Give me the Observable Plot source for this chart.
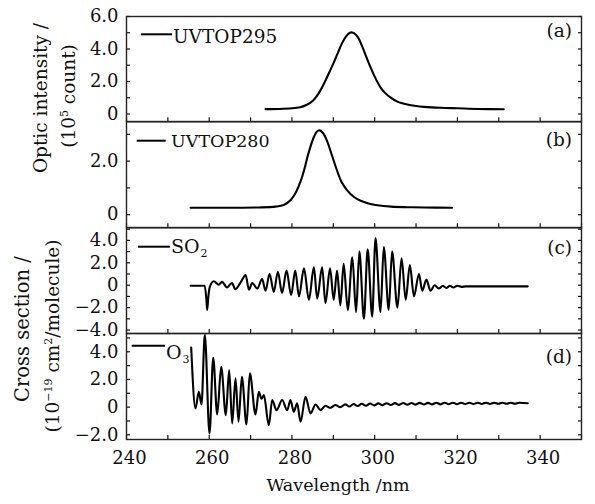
<!DOCTYPE html>
<html><head><meta charset="utf-8">
<script src="https://cdn.jsdelivr.net/npm/d3@7"></script>
<script src="https://cdn.jsdelivr.net/npm/@observablehq/plot@0.6"></script>
<style>
body{margin:0;background:#fff;}
#chart{position:relative;width:595px;height:504px;font-family:"DejaVu Serif",serif;color:#111;overflow:hidden;}
#chart svg{position:absolute;left:0;overflow:visible;background:transparent;}
</style></head><body><div id="chart"></div>
<script>
// ---- data (wavelength in nm) ----
const uv295Wl  = [273.6,277,280,282,283.5,285,286,287,288,289,290,291,292,293,294,294.5,295,296,297,298,299,300,301.4,302.5,303.8,305.5,307.9,310,311.9,316,320,325,331.2];
const uv295Val = [0.30,0.31,0.35,0.42,0.55,0.80,1.10,1.50,2.00,2.55,3.10,3.70,4.30,4.75,5.00,5.02,4.98,4.70,4.15,3.50,2.87,2.30,1.64,1.30,1.02,0.76,0.58,0.49,0.44,0.38,0.35,0.31,0.29];

const uv280Wl  = [255.5,265,272,276,278,279.7,281,282.1,283,284,285.3,286,286.7,287.5,288.5,289.7,290.9,292,293.4,295,296.6,298.5,300.6,304,307.9,312,318.7];
const uv280Val = [0.26,0.26,0.27,0.30,0.36,0.55,0.85,1.25,1.70,2.30,2.90,3.10,3.15,3.05,2.75,2.20,1.65,1.22,0.90,0.66,0.52,0.42,0.35,0.30,0.28,0.27,0.26];

const so2Wl  = [255.5,258.9,259.3,259.5,259.8,260.1,261.1,262.3,263.1,264.3,265.5,266.3,267.6,268.8,269.6,270.4,271.6,272.8,273.6,274.6,275.6,276.6,277.6,278.7,279.8,280.8,281.7,282.9,284.1,285.3,286.1,287.3,288.1,289.2,290.1,290.9,291.7,292.5,293.5,294.6,295.5,296.3,297.4,298.3,299.4,300.2,301.4,302.2,303.4,304.2,305.5,306.5,307.5,308.5,309.5,310.7,311.5,312.5,313.5,314.5,315.5,316.5,317.3,318.2,319,320,321,322,337];
const so2Val = [-0.05,-0.05,-1.2,-2.2,-1.0,-0.2,0.35,0.05,0.3,-0.2,0.2,-0.35,0.25,0.9,-0.4,0.2,-0.3,0.55,-0.5,1.0,-0.6,1.2,-0.7,1.3,-0.9,1.3,-1.0,1.5,-1.3,1.6,-1.2,1.6,-1.6,1.5,-1.3,1.3,-1.8,1.9,-2.2,2.5,-2.4,3.0,-3.0,3.2,-2.8,4.2,-2.4,3.4,-2.2,3.0,-2.0,2.4,-1.3,1.8,-1.0,1.0,-0.5,0.5,-0.5,0.0,-0.3,-0.05,-0.25,-0.05,-0.2,-0.05,-0.15,-0.1,-0.1];

const o3Wl  = [255.64,256.68,257.49,258.13,258.93,260.07,260.96,261.93,262.89,264.01,264.82,265.55,266.35,267.08,267.89,269.01,269.82,271.19,271.99,272.64,273.2,274.41,275.22,276.27,277.63,278.84,279.65,280.45,281.26,282.07,283.28,284.49,285.7,286.9,288.1,289.3,290.5,291.7,292.9,293.9,294.9,295.9,296.9,297.9,298.9,299.9,300.9,301.9,302.9,303.9,304.9,305.9,306.9,307.9,308.9,309.9,310.9,311.9,312.9,313.9,314.9,315.9,316.9,317.9,318.9,319.9,320.9,321.9,322.9,323.9,324.9,325.9,326.9,327.9,328.9,329.9,330.9,331.9,332.9,333.9,335,337];
const o3Val = [4.3,-0.1,1.11,0.19,5.22,-1.91,3.57,-0.53,2.92,-0.58,2.68,-1.18,2.08,-1.06,2.2,-1.26,2.44,-0.53,1.11,0.6,0.87,-1.3,0.51,-0.22,0.51,-0.22,0.51,-0.34,0.27,-1.06,0.75,-0.46,0.19,-0.22,0.1,-0.05,0.15,0.0,0.2,0.04,0.22,0.08,0.24,0.1,0.26,0.12,0.27,0.14,0.28,0.15,0.29,0.16,0.3,0.17,0.3,0.18,0.31,0.19,0.31,0.2,0.32,0.2,0.32,0.21,0.32,0.21,0.32,0.22,0.32,0.22,0.32,0.23,0.32,0.23,0.32,0.24,0.32,0.24,0.32,0.25,0.32,0.28];

const xTicks = [240,250,260,270,280,290,300,310,320,330,340,350];
const xLabels = [240,260,280,300,320,340];

const panelNames = ["UVTOP295","UVTOP280","SO2","O3"];
const panelTags = ["(a)","(b)","(c)","(d)"];
const yDomains = [[-0.48,6.0],[-0.49,3.48],[-4.31,5.15],[-2.34,5.32]];
const yTicks = [[0,1,2,3,4,5,6],[0,1,2,3],[-4,-3,-2,-1,0,1,2,3,4,5],[-2,-1,0,1,2,3,4,5]];
const yLabels = [[0,2,4,6],[0,2],[-4,-2,0,2,4],[-2,0,2,4]];
const series = [[uv295Wl,uv295Val],[uv280Wl,uv280Val],[so2Wl,so2Val],[o3Wl,o3Val]];
const curves = ["catmull-rom","catmull-rom","monotone-x","monotone-x"];

// ---- layout ----
const tops = [15.7,121,227.3,333.3];
const bottoms = [121,227.3,333.3,439.3];
const mt = 14, mb = 40;
const fmt = d => d === 0 ? "0" : d.toFixed(1).replace("-", "\u2212");
const chart = document.getElementById("chart");

series.forEach(([wl, val], i) => {
  const last = i === 3;
  const svg = Plot.plot({
    width: 595,
    height: (bottoms[i] - tops[i]) + mt + mb,
    marginLeft: 126, marginRight: 14, marginTop: mt, marginBottom: mb,
    x: {domain: [240, 350]},
    y: {domain: yDomains[i]},
    style: {fontFamily: "'DejaVu Serif', serif", fontSize: "18px", background: "transparent", overflow: "visible", color: "#111"},
    marks: [
      Plot.axisY({ticks: yTicks[i], anchor: "left", tickSize: -4, tickFormat: () => "", label: null, strokeWidth: 1.2}),
      Plot.axisY({ticks: yLabels[i], anchor: "left", tickSize: 0, tickPadding: 8, tickFormat: fmt, label: null}),
      Plot.axisY({ticks: yTicks[i], anchor: "right", tickSize: -4, tickFormat: () => "", label: null, strokeWidth: 1.2}),
      Plot.axisX({ticks: xTicks, anchor: "bottom", tickSize: -4, tickFormat: () => "", label: null, strokeWidth: 1.2}),
      last ? Plot.axisX({ticks: xLabels, anchor: "bottom", tickSize: 0, tickPadding: 12, dx: 3, tickFormat: d => String(d), label: null}) : null,
      Plot.line(val, {x: wl, y: val, curve: curves[i], stroke: "#000", strokeWidth: 2.1}),
      Plot.frame({stroke: "#222", strokeWidth: 1.4})
    ]
  });
  svg.style.top = (tops[i] - mt) + "px";
  chart.appendChild(svg);
});

// ---- annotations overlay (legends, panel tags, axis titles) ----
const NS = "http://www.w3.org/2000/svg";
const ov = document.createElementNS(NS, "svg");
ov.setAttribute("width", 595); ov.setAttribute("height", 504);
ov.style.top = "0px";
ov.setAttribute("font-family", "'DejaVu Serif', serif");
ov.setAttribute("fill", "#111");
ov.innerHTML = `
  <line x1="141" x2="172" y1="34.3" y2="34.3" stroke="#000" stroke-width="2"/>
  <text x="173" y="43.3" font-size="18.5">${panelNames[0]}</text>
  <line x1="136.7" x2="165.7" y1="140.7" y2="140.7" stroke="#000" stroke-width="2"/>
  <text x="171" y="146.7" font-size="17.5">${panelNames[1]}</text>
  <line x1="138" x2="170" y1="246.7" y2="246.7" stroke="#000" stroke-width="2"/>
  <text x="171" y="252.5" font-size="19">SO<tspan font-size="11" dy="4" dx="1">2</tspan></text>
  <line x1="131.7" x2="165" y1="345.7" y2="345.7" stroke="#000" stroke-width="2"/>
  <text x="166" y="358.5" font-size="19">O<tspan font-size="11" dy="4" dx="1">3</tspan></text>
  <text x="572" y="37" font-size="18.5" text-anchor="end">${panelTags[0]}</text>
  <text x="572" y="146" font-size="18.5" text-anchor="end">${panelTags[1]}</text>
  <text x="572" y="254" font-size="18.5" text-anchor="end">${panelTags[2]}</text>
  <text x="572" y="363" font-size="18.5" text-anchor="end">${panelTags[3]}</text>
  <text transform="translate(46.6,98) rotate(-90)" text-anchor="middle" font-size="18.5">Optic intensity /</text>
  <text transform="translate(74.5,96) rotate(-90)" text-anchor="middle" font-size="18.5">(10<tspan font-size="11" dy="-7">5</tspan><tspan dy="7"> count)</tspan></text>
  <text transform="translate(28.5,329) rotate(-90)" text-anchor="middle" font-size="19.5">Cross section /</text>
  <text transform="translate(58.5,336) rotate(-90)" text-anchor="middle" font-size="18.5">(10<tspan font-size="11" dy="-7">\u221219</tspan><tspan dy="7"> cm</tspan><tspan font-size="11" dy="-7">2</tspan><tspan dy="7">/molecule)</tspan></text>
  <text x="338" y="491" font-size="17.5" text-anchor="middle">Wavelength /nm</text>
`;
chart.appendChild(ov);
</script></body></html>
